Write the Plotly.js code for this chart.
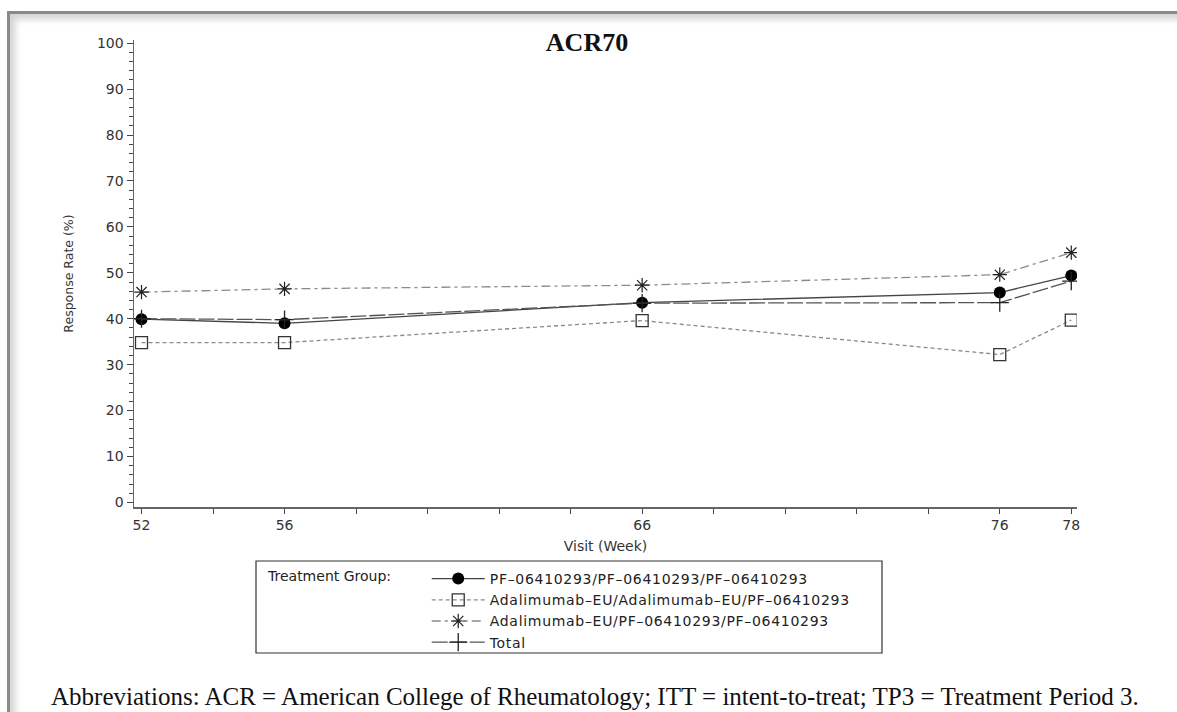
<!DOCTYPE html>
<html>
<head>
<meta charset="utf-8">
<script src="https://cdn.plot.ly/plotly-3.0.1.min.js"></script>
<style>
  html, body { margin: 0; padding: 0; background: #ffffff; }
  #frame {
    position: absolute; left: 7px; top: 11px; width: 1180px; height: 710px;
    border-left: 3px solid #8a8a8a; border-top: 3px solid #8a8a8a;
    box-shadow: inset 5px 5px 7px rgba(0,0,0,0.18);
    background: #ffffff;
  }
  #chart { position: absolute; left: 0; top: 0; width: 1177px; height: 712px; }
  #chart .legend .scrollbox { clip-path: none !important; }
  #chart .legend .traces .legendtext { letter-spacing: 0.7px; }
</style>
</head>
<body>
<div id="frame"></div>
<div id="chart"></div>
<script>
// Visit weeks
const weeks = [52, 56, 66, 76, 78];
const weekTickLabels = ["52", "56", "66", "76", "78"];

// Series names
const nameA = "PF\u201306410293/PF\u201306410293/PF\u201306410293";
const nameB = "Adalimumab\u2013EU/Adalimumab\u2013EU/PF\u201306410293";
const nameC = "Adalimumab\u2013EU/PF\u201306410293/PF\u201306410293";
const nameD = "Total";

// Response rates (%)
const pfPfPf   = [39.9, 39.0, 43.5, 45.7, 49.4];
const adaAdaPf = [34.8, 34.8, 39.6, 32.2, 39.7];
const adaPfPf  = [45.8, 46.5, 47.3, 49.6, 54.4];
const total    = [40.0, 39.8, 43.4, 43.5, 48.2];

const traces = [
  { x: weeks, y: pfPfPf, name: nameA, type: "scatter", mode: "lines+markers",
    line: { color: "#444444", width: 1.3, dash: "solid" },
    marker: { symbol: "circle", size: 12, color: "#000000" } },
  { x: weeks, y: adaAdaPf, name: nameB, type: "scatter", mode: "lines+markers",
    line: { color: "#8a8a8a", width: 1.3, dash: "4px,3px" },
    marker: { symbol: "square-open", size: 12, color: "#333333", line: { width: 1.3 } } },
  { x: weeks, y: adaPfPf, name: nameC, type: "scatter", mode: "lines+markers",
    line: { color: "#8a8a8a", width: 1.3, dash: "9px,4px,3px,4px" },
    marker: { symbol: "asterisk-open", size: 12, color: "#222222", line: { width: 1.2, color: "#222222" } } },
  { x: weeks, y: total, name: nameD, type: "scatter", mode: "lines+markers",
    line: { color: "#555555", width: 1.3, dash: "16px,3px" },
    marker: { symbol: "cross-thin-open", size: 13, color: "#222222", line: { width: 1.3, color: "#222222" } } }
];

const W = 1177, H = 712;
const L = 134, R = 100, T = 40, B = 205;
const pw = W - L - R, ph = H - T - B;
const px = v => (v - L) / pw;
const py = v => (H - B - v) / ph;

const legendFont = { family: "DejaVu Sans, sans-serif", size: 14, color: "#222222" };

const layout = {
  width: W, height: H,
  margin: { l: L, r: R, t: T, b: B },
  paper_bgcolor: "rgba(0,0,0,0)",
  plot_bgcolor: "rgba(0,0,0,0)",
  showlegend: true,
  font: { family: "DejaVu Sans, sans-serif", color: "#333333" },
  title: {
    text: "<b>ACR70</b>",
    font: { family: "Liberation Serif, Times New Roman, serif", size: 26, color: "#111111" },
    x: 587 / W, xref: "container", xanchor: "center",
    y: 1 - 42 / H, yref: "container", yanchor: "middle"
  },
  xaxis: {
    range: [51.79, 78.16],
    tickmode: "array", tickvals: weeks, ticktext: weekTickLabels,
    ticks: "outside", ticklen: 5, tickwidth: 1, tickcolor: "#444444",
    minor: { dtick: 2, tick0: 52, ticks: "outside", ticklen: 5, tickcolor: "#444444", showgrid: false },
    showline: true, linecolor: "#666666", linewidth: 1.5,
    showgrid: false, zeroline: false,
    tickfont: { family: "DejaVu Sans, sans-serif", size: 14, color: "#333333" },
    title: { text: "Visit (Week)", font: { family: "DejaVu Sans, sans-serif", size: 14, color: "#333333" }, standoff: 9 }
  },
  yaxis: {
    range: [-1.0, 100.7],
    tickmode: "linear", tick0: 0, dtick: 10,
    ticks: "outside", ticklen: 6, tickwidth: 1, tickcolor: "#444444",
    minor: { dtick: 2, ticks: "outside", ticklen: 4, tickcolor: "#444444", showgrid: false },
    showline: true, linecolor: "#666666", linewidth: 1.5,
    showgrid: false, zeroline: false,
    tickfont: { family: "DejaVu Sans, sans-serif", size: 14, color: "#333333" },
    title: { text: "Response Rate (%)", font: { family: "DejaVu Sans, sans-serif", size: 12.5, color: "#333333" }, standoff: 20 }
  },
  legend: {
    x: px(266), y: py(563), xanchor: "left", yanchor: "top",
    xref: "paper", yref: "paper",
    bgcolor: "rgba(0,0,0,0)", borderwidth: 0,
    font: legendFont,
    title: { text: "Treatment Group:&nbsp;&nbsp;&nbsp;&nbsp;&nbsp;&nbsp;", side: "left", font: legendFont },
    traceorder: "normal", tracegroupgap: 0, itemwidth: 53
  },
  shapes: [
    { type: "rect", xref: "paper", yref: "paper",
      x0: px(256), x1: px(882), y0: py(653), y1: py(561),
      line: { color: "#333333", width: 1.2 }, fillcolor: "rgba(0,0,0,0)" }
  ],
  annotations: [
    { text: "Abbreviations: ACR = American College of Rheumatology; ITT = intent-to-treat; TP3 = Treatment Period 3.",
      xref: "paper", yref: "paper", x: px(595), y: py(696), xanchor: "center", yanchor: "middle",
      showarrow: false,
      font: { family: "Liberation Serif, Times New Roman, serif", size: 25, color: "#111111" } }
  ]
};

Plotly.newPlot("chart", traces, layout, { displayModeBar: false, staticPlot: true });
</script>
</body>
</html>
